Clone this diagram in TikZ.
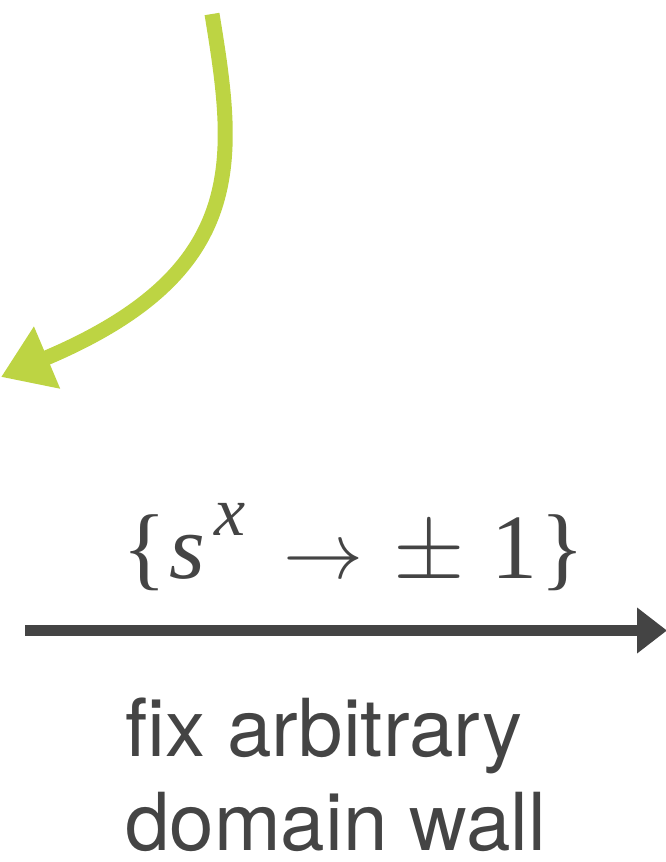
\documentclass[tikz,border=0pt]{standalone}
\usepackage{fix-cm}
\usepackage{fontspec}
\setmainfont{TeX Gyre Heros}
\newfontfamily\timesfnt{Liberation Serif}
\usetikzlibrary{arrows.meta}
\definecolor{wallgray}{HTML}{444444}
\definecolor{flowgreen}{HTML}{BDD443}

\begin{document}
\begin{tikzpicture}[x=1pt, y=-1pt,
    flow/.style={draw=flowgreen, line width=15pt, -{Triangle[length=50pt, width=64pt]}},
    fixarrow/.style={draw=wallgray, line width=11.5pt, -{Triangle[length=30pt, width=44pt]}},
    maplabel/.style={anchor=base west, inner sep=0pt, text=wallgray, font=\timesfnt\fontsize{92}{92}\selectfont},
    notelabel/.style={anchor=base west, inner sep=0pt, align=left, text depth=0pt, text=wallgray, font=\fontsize{80}{94}\selectfont},
  ]
  \useasboundingbox (0,0) rectangle (666,862);
  % green arrow from above
  \coordinate (gtop) at (212,14);
  \coordinate (gtip) at (1,377);
  \draw[flow] (gtop) .. controls (236,160) and (250,272) .. (gtip);
  % fixing arrow
  \coordinate (lstart) at (25,630.5);
  \coordinate (ltip) at (667,630.5);
  \draw[fixarrow] (lstart) -- (ltip);
  % labels
  \node[maplabel] (spinmap) at (122,578)
    {\{\hspace{3pt}\textit{s}\hspace{9pt}\raisebox{0.46em}{\fontsize{70}{70}\selectfont\textit{x}}\hspace{38pt}{\fontsize{80}{80}\selectfont$\rightarrow$}\hspace{30pt}{\fontsize{92}{92}\selectfont$\pm$}\hspace{27pt}1\hspace{3pt}\}};
  \node[notelabel] (wallnote) at (125,850) {fix arbitrary\\domain wall};
\end{tikzpicture}
\end{document}
